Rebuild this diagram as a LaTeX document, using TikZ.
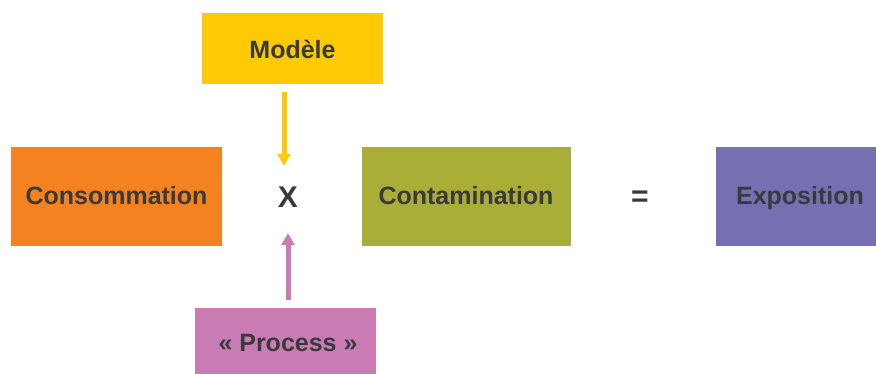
\documentclass[tikz,border=0pt]{standalone}
\usepackage{fontspec}
\setmainfont{Liberation Sans}
\usepackage{tikz}
\usetikzlibrary{positioning, arrows.meta}
\definecolor{txtgray}{HTML}{3A3A3C}
\definecolor{modeleyellow}{HTML}{FECA05}
\definecolor{consoorange}{HTML}{F48221}
\definecolor{contaolive}{HTML}{A9AE36}
\definecolor{expopurple}{HTML}{7570B1}
\definecolor{processpink}{HTML}{C97CB4}

\begin{document}
\begin{tikzpicture}[x=1pt, y=-1pt,
		box/.style={rectangle, inner sep=0pt, text=txtgray, text height=21pt, text depth=5pt, font=\fontsize{25}{29}\selectfont\bfseries},
		sign/.style={inner sep=0pt, text=txtgray, font=\fontsize{30}{34}\selectfont\bfseries},
		arr/.style={line width=5pt, -{Triangle[width=13pt,length=12pt]}}]
	% Fix the frame of the picture
	\useasboundingbox (0,0) rectangle (876,374);
	% Draw the boxes
	\node[box, fill=modeleyellow, minimum width=181pt, minimum height=71pt, text height=25pt] (modele) at (292.5,48.5) {Modèle};
	\node[box, fill=consoorange, minimum width=211pt, minimum height=99pt] (conso) at (116.5,197) {Consommation};
	\node[box, fill=contaolive, minimum width=209pt, minimum height=99pt] (conta) at (466,197) {Contamination};
	\node[box, fill=expopurple, minimum width=160pt, minimum height=99pt] (expo) at (796,197) {\hspace*{8pt}Exposition};
	\node[box, fill=processpink, minimum width=181pt, minimum height=66pt, text height=26pt] (process) at (285,341) {\hspace*{6pt}« Process »};
	% Draw the signs between the boxes
	\node[sign, minimum height=66pt] (times) at (288,197) {X};
	\node[sign] (equal) at (640,199) {=};
	% Draw the arrows into the product
	\draw[arr, modeleyellow, shorten <=8pt, shorten >=-2pt] ([xshift=-4pt]times.north |- modele.south) -- ([xshift=-4pt]times.north);
	\draw[arr, processpink, shorten <=8pt, shorten >=3pt] (times.south |- process.north) -- (times.south);
\end{tikzpicture}
\end{document}
